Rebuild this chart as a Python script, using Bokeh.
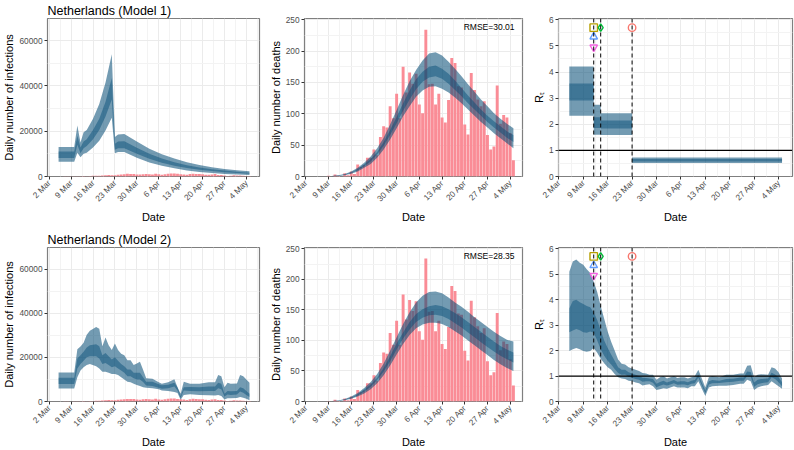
import math
from bokeh.plotting import figure
from bokeh.models import FixedTicker, Label, Span, Range1d
from bokeh.layouts import row, column
from bokeh.embed import file_html
from bokeh.resources import INLINE

FONT = "Liberation Sans"

# ---------------- data ----------------
date_ticks = [0, 7, 14, 21, 28, 35, 42, 49, 56, 63]          # days after 2 Mar 2020
date_labels = ["2 Mar", "9 Mar", "16 Mar", "23 Mar", "30 Mar",
               "6 Apr", "13 Apr", "20 Apr", "27 Apr", "4 May"]
date_minor = [3.5, 10.5, 17.5, 24.5, 31.5, 38.5, 45.5, 52.5, 59.5, 66.5]

obs_days = list(range(0, 65))
obs_deaths = [0, 0, 0, 0, 0, 0, 0, 1, 0, 3, 1, 0, 5, 2, 8, 4, 19, 15, 18, 30,
              30, 43, 34, 63, 80, 78, 112, 93, 132, 93, 175, 134, 166, 148, 164,
              115, 101, 234, 147, 148, 115, 132, 94, 86, 122, 189, 181, 144, 142,
              83, 67, 165, 138, 123, 112, 120, 66, 43, 48, 145, 84, 98, 94, 69, 26]
obs_cases = [5, 5, 14, 44, 46, 60, 77, 56, 61, 121, 111, 190, 155, 176, 278, 292,
             346, 409, 534, 637, 573, 545, 811, 852, 1019, 1172, 1159, 1104, 884,
             845, 1019, 1083, 1026, 904, 1224, 952, 777, 969, 1213, 1335, 1316,
             1174, 964, 868, 734, 1061, 1235, 1140, 1066, 964, 750, 729, 887, 1066,
             655, 708, 400, 171, 386, 514, 475, 445, 335, 199, 242]

# Model 1 infections
inf1_days = [3, 8, 9, 10, 11, 12, 14, 16, 18, 20, 21, 22, 24, 28, 32, 36, 40, 44, 48, 52, 56, 60, 64]
inf1_hi95 = [13000, 13000, 22500, 15000, 19500, 20500, 25500, 32000, 41500, 54000, 17500, 18500,
             18800, 15500, 12300, 9800, 7900, 6300, 5100, 4100, 3300, 2750, 2300]
inf1_lo95 = [6500, 6500, 10500, 8500, 10000, 10500, 12800, 15800, 20300, 26000, 10300, 10800,
             10800, 8300, 6200, 4700, 3600, 2700, 2000, 1500, 1150, 900, 700]
inf1_hi50 = [11000, 11000, 18000, 12800, 15500, 16500, 20500, 25500, 33000, 43500, 14500, 15500,
             15600, 12700, 10000, 7900, 6300, 5000, 4000, 3200, 2600, 2100, 1700]
inf1_lo50 = [8200, 8200, 14000, 10300, 12500, 13500, 16500, 20500, 26500, 34000, 11800, 12500,
             12500, 10000, 7800, 6100, 4800, 3800, 3000, 2400, 1900, 1500, 1200]

# Model 2 infections
inf2_days = [3, 8, 9, 10, 11, 12, 13, 15, 16, 17, 18, 19, 20, 21, 22, 23, 24, 25, 26, 27, 28, 29,
             30, 31, 33, 35, 36, 38, 40, 41, 42, 43, 45, 48, 51, 53, 54, 55, 56, 57, 58, 60, 61,
             62, 63, 64]
inf2_hi95 = [13200, 13200, 23700, 24900, 26600, 30200, 32100, 33800, 33000, 25000, 29000, 25500,
             23300, 26300, 23300, 21600, 21000, 18700, 18700, 16500, 17200, 18000, 14400, 10500,
             10300, 8700, 8000, 8700, 10100, 6500, 3500, 9000, 8000, 8000, 8700, 8700, 12000,
             11500, 6500, 8500, 8000, 8200, 12000, 11500, 10000, 8500]
inf2_lo95 = [5900, 5900, 11000, 14000, 15500, 16500, 17000, 16000, 15000, 13500, 13500, 13000,
             12500, 12500, 12000, 11000, 10000, 9000, 8700, 8000, 7500, 7000, 6500, 6200, 6000,
             5500, 5000, 4800, 4300, 3800, 800, 3000, 3300, 3000, 2800, 2700, 2900, 2500, 900,
             1500, 1500, 1600, 2000, 1700, 1200, 600]
inf2_hi50 = [10800, 10800, 19500, 21000, 22500, 24500, 25500, 26000, 25000, 21000, 22000, 20500,
             19000, 20000, 18500, 17000, 16000, 14500, 14500, 13000, 13000, 13000, 11000, 9000,
             9000, 7800, 7400, 7600, 8500, 6500, 2400, 6500, 6600, 6500, 6800, 6800, 8500, 8000,
             3500, 4800, 4600, 4800, 6500, 6000, 4800, 3500]
inf2_lo50 = [7900, 7900, 15000, 17000, 18500, 20000, 20500, 20500, 19500, 17000, 17500, 16500,
             15500, 16000, 15000, 14000, 13000, 11500, 11500, 10500, 10000, 10000, 8800, 7200,
             7000, 6200, 5800, 6000, 6800, 5000, 1600, 5000, 4800, 4700, 4800, 4800, 6000, 5500,
             2300, 3200, 3000, 3200, 4500, 4000, 3000, 2000]

# Estimated deaths (both models)
dth_days = [8, 10, 12, 14, 16, 18, 20, 22, 24, 26, 28, 30, 32, 34, 36, 38, 40, 42, 44, 46,
            48, 50, 52, 54, 56, 58, 60, 62, 64]
dth1_lo95 = [0.3, 0.8, 2, 4.5, 8, 14, 20, 30, 43, 59, 77, 96, 112, 127, 137, 143, 144, 140, 134,
             126, 117, 107, 97, 87, 78, 69, 61, 53, 45]
dth1_hi95 = [0.8, 1.8, 4, 8, 14, 22, 32, 45, 62, 83, 106, 130, 152, 170, 185, 196, 198, 193, 183,
             172, 160, 147, 135, 123, 112, 101, 92, 84, 77]
dth1_lo50 = [0.45, 1.1, 2.7, 5.5, 10, 16.5, 24, 35, 49, 66, 85, 105, 123, 139, 151, 158, 160, 156,
             148, 138, 128, 117, 107, 97, 87, 78, 70, 62, 55]
dth1_hi50 = [0.6, 1.5, 3.3, 6.5, 12, 19.5, 28, 39, 55, 74, 95, 117, 137, 155, 167, 175, 177, 172,
             164, 153, 141, 129, 118, 107, 97, 88, 80, 72, 66]
dth2_lo95 = [0.3, 0.8, 2, 4.5, 8, 13, 20, 30, 43, 59, 77, 94, 109, 120, 126, 129, 129, 127, 122,
             115, 108, 100, 92, 84, 76, 68, 61, 55, 50]
dth2_hi95 = [0.8, 1.8, 4, 8, 14, 22, 32, 45, 62, 83, 105, 127, 146, 162, 173, 179, 180, 177, 170,
             162, 155, 147, 138, 130, 122, 114, 107, 101, 98]
dth2_lo50 = [0.45, 1.1, 2.7, 5.5, 10, 16, 24, 35, 49, 66, 85, 103, 118, 130, 137, 141, 142, 140,
             135, 128, 121, 113, 105, 97, 89, 82, 75, 69, 64]
dth2_hi50 = [0.6, 1.5, 3.3, 6.5, 12, 19.5, 28, 39, 55, 74, 95, 113, 130, 143, 151, 156, 158, 156,
             151, 145, 138, 130, 122, 114, 106, 98, 91, 85, 80]

# Model 1 Rt (piecewise constant)
rt1_start = [3, 10, 12, 21]
rt1_end = [10, 12, 21, 64]
rt1_lo95 = [2.33, 1.60, 1.59, 0.52]
rt1_hi95 = [4.21, 2.75, 2.42, 0.73]
rt1_lo50 = [2.91, 1.86, 1.84, 0.57]
rt1_hi50 = [3.56, 2.27, 2.14, 0.67]

# Model 2 Rt
rt2_days = [3, 4, 5, 6, 7, 8, 9, 10, 11, 12, 13, 14, 15, 16, 17, 18, 19, 20, 21, 22, 23, 24, 25,
            26, 27, 28, 29, 30, 31, 32, 33, 34, 35, 36, 37, 38, 39, 40, 41, 42, 43, 44, 46, 48,
            50, 52, 53, 54, 55, 56, 57, 58, 60, 61, 62, 63, 64]
rt2_hi95 = [5.1, 5.5, 5.58, 5.45, 5.37, 5.2, 5.05, 4.7, 4.3, 3.75, 3.25, 2.75, 2.35, 2.0, 1.65,
            1.48, 1.45, 1.35, 1.3, 1.25, 1.2, 1.12, 1.1, 1.05, 1.05, 0.85, 0.95, 1.0, 0.9, 0.95,
            1.0, 0.92, 0.95, 0.95, 0.9, 0.95, 1.0, 1.25, 0.9, 0.55, 0.95, 1.0, 0.95, 1.05, 1.05,
            1.1, 1.1, 1.4, 1.42, 0.95, 1.05, 1.07, 1.05, 1.35, 1.3, 1.15, 0.9]
rt2_lo95 = [1.98, 2.05, 2.1, 2.05, 1.98, 1.95, 1.98, 2.1, 1.92, 1.68, 1.5, 1.35, 1.25, 1.08,
            0.95, 0.9, 0.88, 0.82, 0.8, 0.75, 0.72, 0.63, 0.66, 0.68, 0.6, 0.45, 0.48, 0.52, 0.5,
            0.55, 0.6, 0.55, 0.55, 0.55, 0.52, 0.6, 0.6, 0.8, 0.5, 0.22, 0.55, 0.6, 0.62, 0.62,
            0.65, 0.7, 0.7, 0.85, 0.8, 0.45, 0.55, 0.6, 0.65, 0.8, 0.7, 0.6, 0.5]
rt2_hi50 = [3.65, 3.95, 4.0, 3.9, 3.83, 3.75, 3.7, 3.5, 3.2, 2.8, 2.4, 2.1, 1.85, 1.6, 1.35,
            1.25, 1.25, 1.15, 1.1, 1.05, 1.0, 0.93, 0.92, 0.9, 0.88, 0.7, 0.77, 0.82, 0.75, 0.8,
            0.84, 0.78, 0.8, 0.8, 0.76, 0.82, 0.84, 1.06, 0.74, 0.42, 0.8, 0.84, 0.82, 0.88,
            0.89, 0.94, 0.94, 1.18, 1.16, 0.75, 0.85, 0.88, 0.9, 1.13, 1.06, 0.95, 0.76]
rt2_lo50 = [2.72, 2.79, 2.85, 2.8, 2.72, 2.7, 2.75, 2.7, 2.4, 2.05, 1.8, 1.6, 1.45, 1.28, 1.12,
            1.05, 1.06, 0.97, 0.93, 0.88, 0.85, 0.78, 0.8, 0.8, 0.74, 0.56, 0.62, 0.67, 0.63,
            0.67, 0.72, 0.66, 0.67, 0.67, 0.64, 0.7, 0.72, 0.94, 0.63, 0.32, 0.67, 0.72, 0.73,
            0.76, 0.78, 0.82, 0.82, 1.0, 0.98, 0.58, 0.68, 0.72, 0.76, 0.95, 0.88, 0.76, 0.6]

# Interventions
int_days = [10, 10, 10, 12, 21]
int_marker = ["square", "triangle", "inverted_triangle", "diamond", "circle"]
int_y = [5.7, 5.35, 4.95, 5.7, 5.7]
int_color = ["#B79F00", "#619CFF", "#F564E3", "#00BA38", "#F8766D"]

rmse = ["RMSE=30.01", "RMSE=28.35"]
titles = ["Netherlands (Model 1)", "Netherlands (Model 2)"]

# ---------------- style ----------------
BAND = "#004973"
BAR = "#FA8C96"
ROW_H = [225, 225]
TOPS = [18, 22]
BOTTOM = 44
COLS = [(266, 44, 7), (261, 35, 5), (267, 31, 2)]
XR = [(-0.54, 67.2), (-0.4, 66.8), (-0.1, 67.0)]


def make_fig(r, col, yr, yticks, yminor, ylabel, title=None):
    w, left, right = COLS[col]
    p = figure(width=w, height=ROW_H[r], x_range=Range1d(*XR[col]), y_range=Range1d(*yr),
               output_backend="svg", toolbar_location=None, title=title,
               min_border_left=left, min_border_right=right,
               min_border_top=TOPS[r], min_border_bottom=BOTTOM)
    p.background_fill_color = "white"
    p.border_fill_color = "white"
    p.outline_line_color = "#7F7F7F"
    p.outline_line_width = 1.2
    if title:
        p.title.text_font = FONT
        p.title.text_font_size = "12.5px"
        p.title.text_font_style = "normal"
        p.title.text_color = "black"
        p.title.standoff = 1
        p.title.offset = 0
    p.xaxis.ticker = FixedTicker(ticks=date_ticks, minor_ticks=date_minor)
    p.xaxis.major_label_overrides = {t: l for t, l in zip(date_ticks, date_labels)}
    p.xaxis.major_label_orientation = math.pi / 4
    p.xaxis.axis_label = "Date"
    p.yaxis.ticker = FixedTicker(ticks=yticks, minor_ticks=yminor)
    p.yaxis.major_label_overrides = {t: str(t) for t in yticks}
    p.yaxis.axis_label = ylabel
    for ax in (p.xaxis[0], p.yaxis[0]):
        ax.axis_line_color = None
        ax.major_tick_line_color = "#333333"
        ax.major_tick_out = 3
        ax.major_tick_in = 0
        ax.minor_tick_line_color = None
        ax.major_label_text_font = FONT
        ax.major_label_text_font_size = "8.3px"
        ax.major_label_text_color = "#4D4D4D"
        ax.major_label_standoff = 1
        ax.axis_label_text_font = FONT
        ax.axis_label_text_font_size = "11px"
        ax.axis_label_text_font_style = "normal"
        ax.axis_label_text_color = "black"
        ax.axis_label_standoff = 1
    for g in (p.xgrid[0], p.ygrid[0]):
        g.grid_line_color = "#EBEBEB"
        g.grid_line_width = 1
        g.minor_grid_line_color = "#F3F3F3"
        g.minor_grid_line_width = 1
    return p


def ribbon(p, x, lo95, hi95, lo50, hi50):
    assert len(x) == len(lo95) == len(hi95) == len(lo50) == len(hi50)
    p.varea(x=x, y1=lo95, y2=hi95, fill_color=BAND, fill_alpha=0.55)
    p.varea(x=x, y1=lo50, y2=hi50, fill_color=BAND, fill_alpha=0.45)


def add_rmse(p, text, xr, yr):
    p.add_layout(Label(x=xr[1], y=yr[1], x_offset=-8, y_offset=-3, text=text,
                       text_align="right", text_baseline="top", text_font=FONT,
                       text_font_size="8.5px", text_color="black"))


def rt_decor(p):
    for d in sorted(set(int_days)):
        p.add_layout(Span(location=d, dimension="height", line_color="black",
                          line_dash="4 3", line_width=1))
    p.add_layout(Span(location=1, dimension="width", line_color="black", line_width=1.2))
    for d, m, y, c in zip(int_days, int_marker, int_y, int_color):
        p.scatter(x=[d], y=[y], marker=m, size=7.5, fill_color="white", fill_alpha=0.0,
                  line_color=c, line_width=1.4)


INF_YR = (0, 69800)
DTH_YR = (0, 252)
RT_YR = (0, 6.05)
inf_ticks, inf_minor = [0, 20000, 40000, 60000], [10000, 30000, 50000]
dth_ticks, dth_minor = [0, 50, 100, 150, 200, 250], [25, 75, 125, 175, 225]
rt_ticks, rt_minor = [0, 1, 2, 3, 4, 5, 6], [0.5, 1.5, 2.5, 3.5, 4.5, 5.5]

rows = []
inf_sets = [(inf1_days, inf1_lo95, inf1_hi95, inf1_lo50, inf1_hi50),
            (inf2_days, inf2_lo95, inf2_hi95, inf2_lo50, inf2_hi50)]
dth_sets = [(dth_days, dth1_lo95, dth1_hi95, dth1_lo50, dth1_hi50),
            (dth_days, dth2_lo95, dth2_hi95, dth2_lo50, dth2_hi50)]

for m in range(2):
    # infections
    p1 = make_fig(m, 0, INF_YR, inf_ticks, inf_minor, "Daily number of infections", titles[m])
    p1.vbar(x=obs_days, top=obs_cases, width=0.9, fill_color=BAR, line_color=None)
    ribbon(p1, *inf_sets[m])

    # deaths
    p2 = make_fig(m, 1, DTH_YR, dth_ticks, dth_minor, "Daily number of deaths")
    p2.vbar(x=obs_days, top=obs_deaths, width=0.9, fill_color=BAR, line_color=None)
    ribbon(p2, *dth_sets[m])
    add_rmse(p2, rmse[m], XR[1], DTH_YR)

    # Rt
    p3 = make_fig(m, 2, RT_YR, rt_ticks, rt_minor, "R\u209C")
    if m == 0:
        p3.quad(left=rt1_start, right=rt1_end, bottom=rt1_lo95, top=rt1_hi95,
                fill_color=BAND, fill_alpha=0.55, line_color=None)
        p3.quad(left=rt1_start, right=rt1_end, bottom=rt1_lo50, top=rt1_hi50,
                fill_color=BAND, fill_alpha=0.45, line_color=None)
    else:
        ribbon(p3, rt2_days, rt2_lo95, rt2_hi95, rt2_lo50, rt2_hi50)
    rt_decor(p3)
    rows.append(row(p1, p2, p3))

layout = column(*rows)
open("out.html", "w").write(file_html(layout, INLINE))
